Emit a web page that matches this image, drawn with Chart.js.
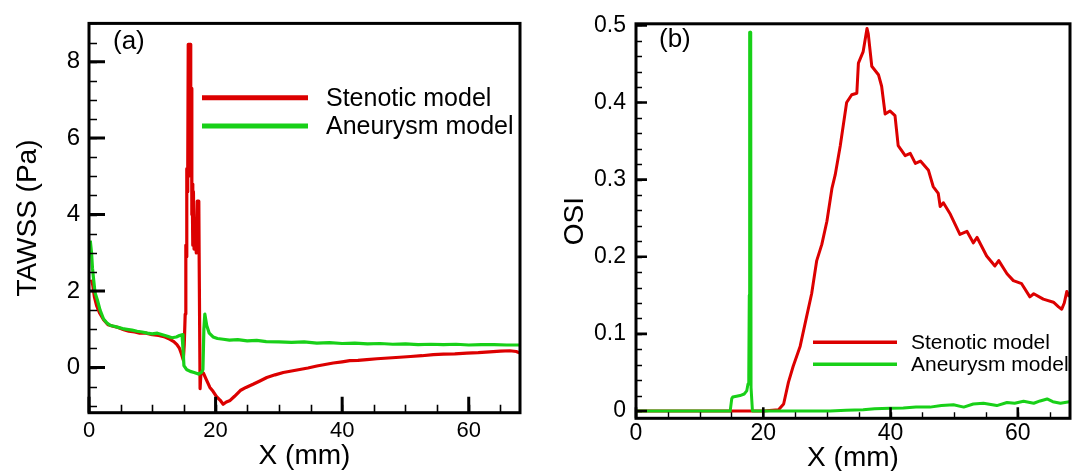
<!DOCTYPE html>
<html>
<head>
<meta charset="utf-8">
<script src="https://cdn.jsdelivr.net/npm/chart.js@4.4.1/dist/chart.umd.min.js"></script>
<style>
html,body{margin:0;padding:0;background:#fff;overflow:hidden;}
#wrapA{position:absolute;left:0;top:0;width:537px;height:471px;}
#wrapB{position:absolute;left:537px;top:0;width:537px;height:471px;}
</style>
</head>
<body>
<div id="wrapA"><canvas id="cA" width="537" height="471"></canvas></div>
<div id="wrapB"><canvas id="cB" width="537" height="471"></canvas></div>
<script>
// ---------- data ----------
const seriesNames = ['Stenotic model', 'Aneurysm model'];
const xTickLabels = [0, 20, 40, 60];
const tawssTickLabels = [0, 2, 4, 6, 8];
const osiTickLabels = [0, 0.1, 0.2, 0.3, 0.4, 0.5];

// (a) TAWSS, stenotic model
const tawssStenX = [0.4, 0.6, 0.85, 1.2, 1.7, 2.3, 3.0, 3.8, 4.6, 5.5, 6.3, 7.2, 8.0, 9.0, 10.0, 11.0, 12.0, 12.8, 13.4, 13.9, 14.3, 14.6, 14.9, 15.05, 15.2, 15.3, 15.35, 15.45, 15.5, 15.6, 15.68, 16.0, 16.05, 16.1, 16.2, 16.25, 16.3, 16.4, 16.5, 16.6, 16.8, 16.95, 17.1, 17.35, 17.4, 17.55, 17.7, 18.1, 18.5, 19.1, 19.6, 20.2, 20.7, 21.2, 21.7, 22.3, 23.0, 23.9, 24.8, 26.0, 27.0, 28.1, 29.4, 30.7, 32.0, 33.3, 34.6, 36.0, 37.3, 38.6, 40.0, 41.2, 42.5, 43.9, 45.5, 47.3, 49.1, 50.8, 52.6, 54.4, 56.0, 57.8, 59.7, 61.5, 63.3, 65.0, 66.5, 67.5, 68.1];
const tawssStenY = [2.3, 2.15, 1.85, 1.62, 1.42, 1.25, 1.12, 1.08, 1.05, 0.99, 0.95, 0.93, 0.90, 0.90, 0.86, 0.84, 0.80, 0.74, 0.68, 0.60, 0.50, 0.36, 0.20, 0.6, 1.4, 3.2, 2.9, 5.2, 4.6, 5.1, 8.45, 8.45, 5.0, 6.8, 7.3, 4.0, 4.8, 3.2, 4.6, 3.1, 3.6, 3.0, 4.35, 4.35, 3.0, -0.55, -0.1, -0.15, -0.3, -0.52, -0.62, -0.77, -0.85, -0.96, -0.9, -0.86, -0.75, -0.6, -0.52, -0.43, -0.35, -0.26, -0.19, -0.13, -0.09, -0.05, -0.01, 0.04, 0.08, 0.12, 0.15, 0.18, 0.19, 0.21, 0.23, 0.25, 0.27, 0.29, 0.31, 0.34, 0.35, 0.36, 0.38, 0.39, 0.41, 0.43, 0.44, 0.42, 0.38];

// (a) TAWSS, aneurysm model
const tawssAneuX = [0.2, 0.4, 0.55, 0.7, 0.95, 1.3, 1.75, 2.3, 2.8, 3.4, 4.0, 4.6, 5.3, 6.0, 6.8, 7.6, 8.4, 9.2, 10.0, 10.8, 11.6, 12.4, 13.1, 13.8, 14.3, 14.7, 14.85, 15.0, 15.4, 16.0, 16.6, 17.3, 17.8, 18.0, 18.15, 18.3, 18.6, 19.0, 19.6, 20.3, 21.2, 22.2, 23.5, 25.0, 26.5, 28.0, 30.0, 32.0, 34.0, 36.0, 38.0, 40.0, 42.0, 44.0, 46.0, 48.0, 50.0, 52.0, 54.0, 56.0, 58.0, 60.0, 62.0, 64.0, 66.0, 68.1];
const tawssAneuY = [3.32, 3.0, 2.6, 2.35, 1.96, 1.78, 1.5, 1.27, 1.17, 1.10, 1.08, 1.05, 1.02, 1.0, 0.98, 0.95, 0.93, 0.90, 0.88, 0.90, 0.86, 0.82, 0.78, 0.80, 0.84, 0.86, 0.5, 0.05, -0.05, -0.1, -0.13, -0.17, -0.12, -0.05, 1.0, 1.40, 1.1, 0.90, 0.80, 0.76, 0.74, 0.72, 0.73, 0.70, 0.71, 0.68, 0.67, 0.66, 0.67, 0.64, 0.65, 0.63, 0.64, 0.62, 0.63, 0.61, 0.62, 0.60, 0.61, 0.60, 0.61, 0.59, 0.60, 0.60, 0.59, 0.59];

// (b) OSI, stenotic model
const osiStenX = [0, 5, 10, 15, 18.3, 20, 22.4, 23.2, 23.95, 24.7, 25.8, 26.8, 27.6, 28.4, 29.2, 30.0, 30.8, 31.3, 32.1, 33.1, 33.9, 34.7, 34.95, 35.7, 36.3, 36.5, 37.05, 38.1, 38.6, 39.15, 39.9, 40.7, 41.2, 42.3, 43.1, 43.9, 44.7, 45.96, 46.7, 47.5, 47.8, 48.3, 49.4, 50.9, 52.0, 53.0, 53.6, 55.1, 56.4, 57.0, 58.3, 59.3, 60.6, 61.9, 62.5, 64.0, 65.6, 66.4, 66.9, 67.3, 67.7, 68.1];
const osiStenY = [0, 0, 0, 0, 0, 0, 0.0015, 0.009, 0.037, 0.058, 0.084, 0.122, 0.152, 0.195, 0.216, 0.246, 0.289, 0.306, 0.344, 0.40, 0.41, 0.412, 0.451, 0.466, 0.496, 0.489, 0.447, 0.436, 0.421, 0.385, 0.389, 0.383, 0.344, 0.331, 0.334, 0.321, 0.324, 0.312, 0.291, 0.282, 0.265, 0.27, 0.255, 0.229, 0.233, 0.218, 0.225, 0.201, 0.188, 0.195, 0.178, 0.169, 0.165, 0.148, 0.152, 0.145, 0.141, 0.135, 0.132, 0.14, 0.155, 0.148];

// (b) OSI, aneurysm model
const osiAneuX = [0, 5, 10, 14.8, 15.05, 15.2, 15.8, 16.35, 17.0, 17.4, 17.6, 17.72, 17.8, 17.86, 17.98, 18.03, 18.08, 18.3, 22, 26, 30.5, 33, 35.7, 37.5, 39.9, 42, 44, 46.2, 48, 49.9, 51.5, 53, 54.6, 56.7, 58.3, 59.5, 60.9, 62.5, 63.5, 64.6, 65.5, 66.7, 68.1];
const osiAneuY = [0, 0, 0, 0, 0.016, 0.018, 0.019, 0.020, 0.022, 0.026, 0.035, 0.045, 0.15, 0.491, 0.491, 0.47, 0.03, 0, 0, 0, 0, 0.001, 0.0015, 0.003, 0.0036, 0.004, 0.005, 0.005, 0.007, 0.008, 0.005, 0.009, 0.010, 0.007, 0.011, 0.010, 0.0125, 0.010, 0.013, 0.0156, 0.012, 0.010, 0.012];

// ---------- styling ----------
const RED = '#dc0000';
const GREEN = '#18d018';
const FONT = '"Liberation Sans", Arial, Helvetica, sans-serif';
Chart.defaults.font.family = FONT;
Chart.defaults.color = '#000';

function pts(xs, ys) { return xs.map((x, i) => ({ x: x, y: ys[i] })); }

const decoPlugin = {
  id: 'deco',
  afterDatasetsDraw(chart, args, o) {
    const ctx = chart.ctx, a = chart.chartArea;
    const xs = chart.scales.x, ys = chart.scales.y;
    ctx.save();
    ctx.strokeStyle = '#000';
    ctx.lineCap = 'butt';
    // minor ticks
    ctx.lineWidth = o.minorWidth;
    ctx.beginPath();
    for (let i = Math.ceil(xs.min / o.xMinor); i * o.xMinor <= xs.max; i++) {
      const p = Math.round(xs.getPixelForValue(i * o.xMinor)) + 0.5;
      ctx.moveTo(p, a.bottom); ctx.lineTo(p, a.bottom - o.minorLen);
    }
    for (let i = Math.ceil(ys.min / o.yMinor); i * o.yMinor <= ys.max + 1e-9; i++) {
      const p = Math.round(ys.getPixelForValue(i * o.yMinor)) + 0.5;
      ctx.moveTo(a.left, p); ctx.lineTo(a.left + o.minorLen, p);
    }
    ctx.stroke();
    // major ticks
    ctx.lineWidth = o.majorWidth;
    ctx.beginPath();
    xs.ticks.forEach(t => {
      const p = xs.getPixelForValue(t.value);
      ctx.moveTo(p, a.bottom); ctx.lineTo(p, a.bottom - o.majorLen);
    });
    ys.ticks.forEach(t => {
      const p = ys.getPixelForValue(t.value);
      ctx.moveTo(a.left, p); ctx.lineTo(a.left + o.majorLen, p);
    });
    ctx.stroke();
    // frame
    ctx.lineWidth = o.frameWidth;
    ctx.strokeRect(a.left, a.top, a.right - a.left, a.bottom - a.top);
    // panel label
    ctx.fillStyle = '#000';
    ctx.textBaseline = 'middle';
    ctx.textAlign = 'left';
    ctx.font = o.labelSize + 'px ' + FONT;
    ctx.fillText(o.label, o.labelX, o.labelY);
    // legend
    ctx.font = o.legSize + 'px ' + FONT;
    chart.data.datasets.forEach((ds, i) => {
      const y = o.legY[i];
      ctx.strokeStyle = ds.borderColor;
      ctx.lineWidth = o.legLineWidth;
      ctx.beginPath();
      ctx.moveTo(o.legX0, y); ctx.lineTo(o.legX1, y);
      ctx.stroke();
      ctx.fillText(ds.label, o.legTextX, y + 1);
    });
    ctx.restore();
  }
};

function makeChart(id, cfg) {
  return new Chart(document.getElementById(id), {
    type: 'scatter',
    data: {
      datasets: [
        { label: seriesNames[0], data: pts(cfg.sx, cfg.sy), borderColor: RED, backgroundColor: RED,
          showLine: true, pointRadius: 0, borderWidth: cfg.lw, borderJoinStyle: 'round', tension: 0, order: 2 },
        { label: seriesNames[1], data: pts(cfg.ax, cfg.ay), borderColor: GREEN, backgroundColor: GREEN,
          showLine: true, pointRadius: 0, borderWidth: cfg.lw, borderJoinStyle: 'round', tension: 0, order: 1 }
      ]
    },
    options: {
      responsive: false,
      animation: false,
      devicePixelRatio: 1,
      layout: { padding: cfg.pad },
      plugins: { legend: { display: false }, tooltip: { enabled: false }, deco: cfg.deco },
      scales: {
        x: {
          type: 'linear', min: 0, max: cfg.xMax,
          grid: { display: false, drawTicks: false }, border: { display: false },
          afterBuildTicks: s => { s.ticks = xTickLabels.map(v => ({ value: v })); },
          afterFit: s => { s.height = cfg.xH; },
          ticks: { font: { size: cfg.xTickSize }, padding: cfg.xTickPad, maxRotation: 0, callback: v => String(v) },
          title: { display: true, text: 'X (mm)', font: { size: cfg.xTitleSize, lineHeight: 1 }, padding: { top: 0, bottom: cfg.xTitlePad } }
        },
        y: {
          type: 'linear', min: cfg.yMin, max: cfg.yMax,
          grid: { display: false, drawTicks: false }, border: { display: false },
          afterBuildTicks: s => { s.ticks = cfg.yTicks.map(v => ({ value: v })); },
          afterFit: s => { s.width = cfg.yW; },
          ticks: { font: { size: cfg.yTickSize }, padding: cfg.yTickPad, callback: v => String(v) },
          title: { display: true, text: cfg.yTitle, font: { size: cfg.yTitleSize, lineHeight: 1 }, padding: { top: cfg.yTitlePad, bottom: 0 } }
        }
      }
    },
    plugins: [decoPlugin]
  });
}

makeChart('cA', {
  sx: tawssStenX, sy: tawssStenY, ax: tawssAneuX, ay: tawssAneuY, lw: 3.2,
  xMax: 68.1, yMin: -1.18, yMax: 9.0, yTicks: tawssTickLabels,
  pad: { left: 0, top: 15.5, right: 17, bottom: 0 },
  xH: 58.3, yW: 89,
  xTickSize: 22, xTickPad: 5, xTitleSize: 28, xTitlePad: 1,
  yTickSize: 24, yTickPad: 9, yTitle: 'TAWSS (Pa)', yTitleSize: 28, yTitlePad: 13.8,
  deco: {
    xMinor: 5, yMinor: 0.5, minorLen: 8, majorLen: 16, minorWidth: 1.6, majorWidth: 3, frameWidth: 3,
    label: '(a)', labelX: 113, labelY: 42, labelSize: 26,
    legX0: 202, legX1: 308, legY: [97.7, 126], legTextX: 326, legSize: 25, legLineWidth: 5
  }
});

makeChart('cB', {
  sx: osiStenX, sy: osiStenY, ax: osiAneuX, ay: osiAneuY, lw: 3,
  xMax: 68.2, yMin: -0.0095, yMax: 0.502, yTicks: osiTickLabels,
  pad: { left: 0, top: 19, right: 4, bottom: 0 },
  xH: 52.7, yW: 99,
  xTickSize: 23, xTickPad: 2, xTitleSize: 28, xTitlePad: -1,
  yTickSize: 23, yTickPad: 10, yTitle: 'OSI', yTitleSize: 28, yTitlePad: 24,
  deco: {
    xMinor: 5, yMinor: 0.02, minorLen: 6, majorLen: 11, minorWidth: 1.4, majorWidth: 2.6, frameWidth: 3,
    label: '(b)', labelX: 122, labelY: 40, labelSize: 26,
    legX0: 276, legX1: 360, legY: [342.3, 364.3], legTextX: 374, legSize: 21, legLineWidth: 3.5
  }
});
</script>
</body>
</html>
